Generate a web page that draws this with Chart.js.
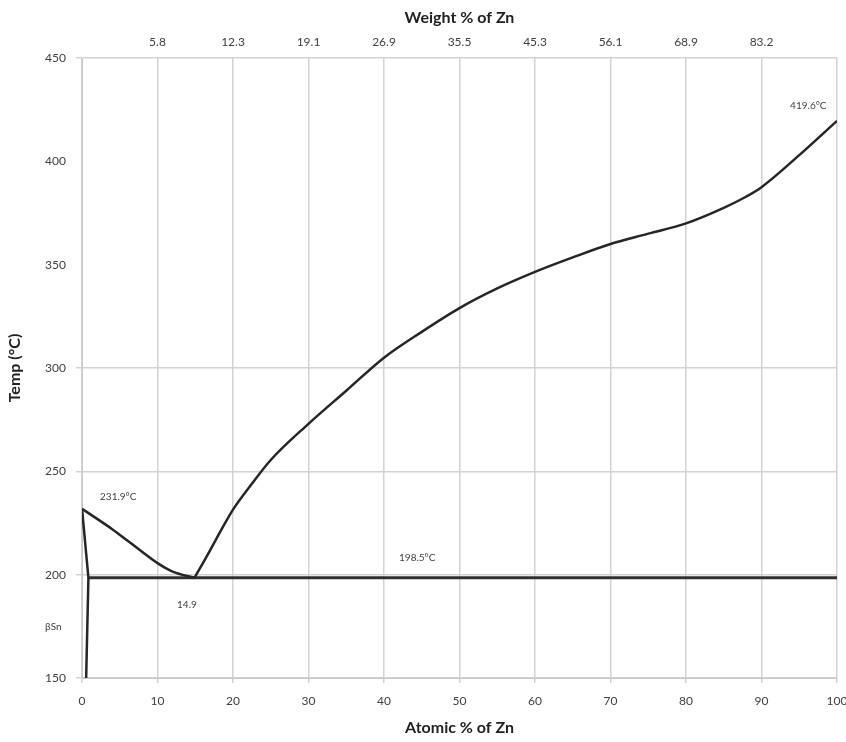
<!DOCTYPE html>
<html>
<head>
<meta charset="utf-8">
<script src="https://cdn.jsdelivr.net/npm/chart.js@4/dist/chart.umd.min.js"></script>
<style>
    html, body { margin: 0; padding: 0; background: #fff; }
    #wrap { width: 846px; height: 742px; }
</style>
</head>
<body>
<div id="wrap"><canvas id="chart-sn-zn"></canvas></div>
<script>
/**
 * Sn-Zn phase diagram
 */

// liquidus, Sn side (atomic % Zn, temp °C)
const LIQ_SN_X = [0, 2, 4, 6, 8, 10, 12, 14.9];
const LIQ_SN_Y = [231.9, 227, 222, 216.5, 211, 205.6, 201.5, 198.5];

// liquidus, Zn side
const LIQ_ZN_X = [14.9, 16, 17, 18.5, 20, 22.5, 25, 30, 35, 40, 45, 50, 55, 60, 65, 70, 75, 80, 85, 88, 90, 95, 100];
const LIQ_ZN_Y = [198.5, 205.5, 212, 222, 231.5, 244, 255.5, 273, 289, 305, 317.5, 329, 338.5, 346.5, 353.5, 360, 365, 370, 377.5, 383, 387.5, 403, 419.6];

// solidus / solvus of (Sn)
const SOLVUS_X = [0, 0.85, 0.55];
const SOLVUS_Y = [231.9, 198.5, 150];

// eutectic line
const EUTECTIC_X = [0.85, 100];
const EUTECTIC_Y = [198.5, 198.5];

// top axis: weight % matching atomic % 10..90
const ATOMIC_TICKS = [10, 20, 30, 40, 50, 60, 70, 80, 90];
const WEIGHT_LABELS = ['5.8', '12.3', '19.1', '26.9', '35.5', '45.3', '56.1', '68.9', '83.2'];

// text notes on the diagram
const NOTE_TEXT = ['231.9°C', '14.9', '198.5°C', '419.6°C', 'βSn'];
const NOTE_X = [4.8, 13.9, 44.4, 96.2, -3.8];
const NOTE_Y = [237.6, 185.3, 208, 427, 174.7];

const FONTE = 'Lato, "Open Sans", sans-serif';
const COR_TEXTO = '#404040';
const COR_GRADE = '#d2d2d2';

function pares(xs, ys) {
    return xs.map((x, i) => ({ x: x, y: ys[i] }));
}

const notasPlugin = {
    id: 'notas',
    afterDatasetsDraw(chart) {
        const { ctx, scales } = chart;
        ctx.save();
        ctx.font = '10px ' + FONTE;
        ctx.fillStyle = COR_TEXTO;
        ctx.textAlign = 'center';
        ctx.textBaseline = 'middle';
        NOTE_TEXT.forEach((t, i) => {
            ctx.fillText(t, scales.x.getPixelForValue(NOTE_X[i]), scales.y.getPixelForValue(NOTE_Y[i]));
        });
        ctx.restore();
    }
};

function linha(xs, ys, largura, cor, suave) {
    const ds = {
        data: pares(xs, ys),
        showLine: true,
        borderColor: cor,
        borderWidth: largura,
        pointRadius: 0,
        fill: false
    };
    if (suave) ds.cubicInterpolationMode = 'monotone';
    return ds;
}

new Chart(document.getElementById('chart-sn-zn'), {
    type: 'scatter',
    data: {
        datasets: [
            linha(LIQ_SN_X, LIQ_SN_Y, 2.5, '#262626', true),
            linha(LIQ_ZN_X, LIQ_ZN_Y, 2.5, '#262626', true),
            linha(SOLVUS_X, SOLVUS_Y, 2.5, '#262626', false),
            linha(EUTECTIC_X, EUTECTIC_Y, 3, '#303030', false)
        ]
    },
    options: {
        responsive: true,
        maintainAspectRatio: false,
        animation: false,
        layout: { padding: { left: 0, right: 0, top: 0, bottom: 0 } },
        plugins: {
            legend: { display: false },
            tooltip: { enabled: false }
        },
        scales: {
            x: {
                type: 'linear',
                position: 'bottom',
                min: 0,
                max: 100,
                ticks: { stepSize: 10, color: COR_TEXTO, font: { family: FONTE, size: 12 }, padding: 11 },
                grid: { color: COR_GRADE, lineWidth: 1.5, tickLength: 5 },
                border: { color: '#c8c8c8' },
                title: {
                    display: true,
                    text: 'Atomic % of Zn',
                    color: '#222',
                    font: { family: FONTE, size: 16, weight: 'bold' },
                    padding: { top: 2, bottom: 5 }
                },
                afterFit: (s) => { s.height = 64; s.paddingRight = 9; s.paddingLeft = 0; }
            },
            x2: {
                type: 'linear',
                position: 'top',
                min: 0,
                max: 100,
                afterBuildTicks: (s) => { s.ticks = ATOMIC_TICKS.map(v => ({ value: v })); },
                ticks: {
                    color: COR_TEXTO,
                    font: { family: FONTE, size: 12 },
                    padding: 1,
                    callback: (v) => WEIGHT_LABELS[ATOMIC_TICKS.indexOf(v)]
                },
                grid: { display: false },
                border: { display: false },
                title: {
                    display: true,
                    text: 'Weight % of Zn',
                    color: '#222',
                    font: { family: FONTE, size: 16, weight: 'bold' },
                    padding: { top: 8, bottom: 2 }
                },
                afterFit: (s) => { s.height = 58; s.paddingRight = 0; s.paddingLeft = 0; }
            },
            y: {
                min: 150,
                max: 450,
                ticks: { stepSize: 50, color: COR_TEXTO, font: { family: FONTE, size: 12 }, padding: 10 },
                grid: {
                    color: (c) => (c.tick && (c.tick.value === 350 || c.tick.value === 400)) ? 'rgba(0,0,0,0)' : COR_GRADE,
                    lineWidth: 1.5,
                    tickLength: 6
                },
                border: { color: '#c8c8c8' },
                title: {
                    display: true,
                    text: 'Temp (°C)',
                    color: '#222',
                    font: { family: FONTE, size: 16, weight: 'bold' },
                    padding: { top: 5, bottom: 2 }
                },
                afterFit: (s) => { s.width = 82; s.paddingTop = 0; s.paddingBottom = 0; }
            }
        }
    },
    plugins: [notasPlugin]
});
</script>
</body>
</html>
